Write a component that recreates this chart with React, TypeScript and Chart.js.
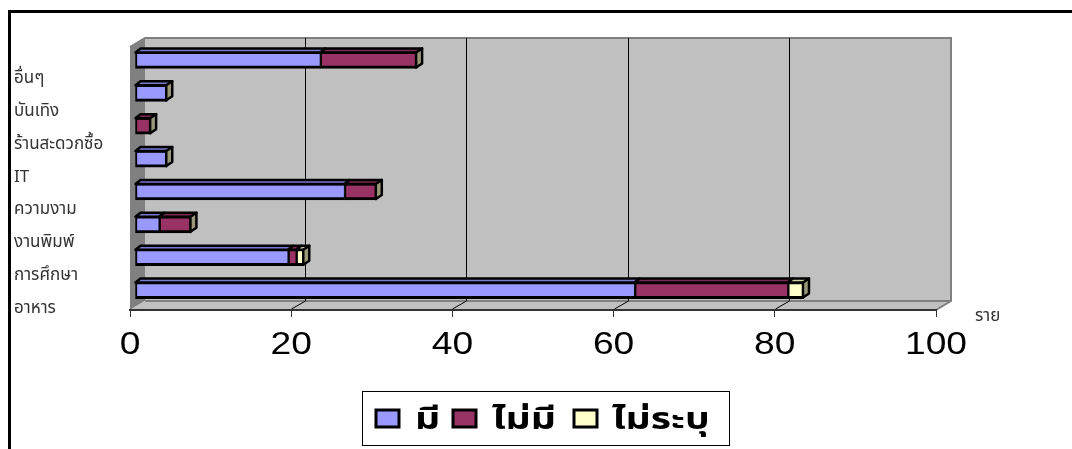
import React, { useEffect, useRef } from "react";
import { Chart, registerables } from "chart.js";

Chart.register(...registerables);

const categories = ["อื่นๆ", "บันเทิง", "ร้านสะดวกซื้อ", "IT", "ความงาม", "งานพิมพ์", "การศึกษา", "อาหาร"];
const hasValues = [23, 4, 0, 4, 26, 3, 19, 62];
const noValues = [12, 0, 2, 0, 4, 4, 1, 19];
const unspecifiedValues = [0, 0, 0, 0, 0, 0, 1, 2];
const seriesNames = ["มี", "ไม่มี", "ไม่ระบุ"];
const seriesColors = ["#9999FF", "#993366", "#FFFFCC"];
const seriesTopColors = ["#7A7ACC", "#7A2952", "#CCCCA3"];
const xTicks = [0, 20, 40, 60, 80, 100];
const unitLabel = "ราย";

const THAI_FONT = '"Noto Sans Thai", "Noto Sans", "DejaVu Sans", sans-serif';
const WALL = { dx: 15, dy: -9 };
const BAR = { dx: 5, dy: -3.5 };
const SIDE_FACE = "#99997A";

function poly(ctx: CanvasRenderingContext2D, pts: number[][]) {
  ctx.beginPath();
  pts.forEach(([x, y], i) => (i ? ctx.lineTo(x, y) : ctx.moveTo(x, y)));
  ctx.closePath();
}

// Page frame, 3D walls, floor and back-wall gridlines
const wallsPlugin = {
  id: "walls",
  beforeDraw(chart: any) {
    const { ctx, chartArea: a, scales } = chart;
    const { left: l, right: r, top: t, bottom: b } = a;
    ctx.save();
    ctx.fillStyle = "#000";
    ctx.fillRect(8, 10, 1064, 3);
    ctx.fillRect(8, 10, 3, 439);

    poly(ctx, [[l + WALL.dx, t + WALL.dy], [r + WALL.dx, t + WALL.dy], [r + WALL.dx, b + WALL.dy], [l + WALL.dx, b + WALL.dy]]);
    ctx.fillStyle = "#C0C0C0";
    ctx.fill();
    poly(ctx, [[l, t], [l + WALL.dx, t + WALL.dy], [l + WALL.dx, b + WALL.dy], [l, b]]);
    ctx.fillStyle = "#808080";
    ctx.fill();
    poly(ctx, [[l, b], [l + WALL.dx, b + WALL.dy], [r + WALL.dx, b + WALL.dy], [r, b]]);
    ctx.fillStyle = "#C0C0C0";
    ctx.fill();

    ctx.strokeStyle = "#808080";
    ctx.lineWidth = 2;
    ctx.beginPath();
    ctx.moveTo(l, t);
    ctx.lineTo(l + WALL.dx, t + WALL.dy);
    ctx.lineTo(r + WALL.dx, t + WALL.dy);
    ctx.lineTo(r + WALL.dx, b + WALL.dy);
    ctx.lineTo(r, b);
    ctx.moveTo(l + WALL.dx, b + WALL.dy);
    ctx.lineTo(r + WALL.dx, b + WALL.dy);
    ctx.stroke();

    ctx.strokeStyle = "#000";
    ctx.lineWidth = 1;
    xTicks.slice(1, -1).forEach((v) => {
      const x = Math.round(scales.x.getPixelForValue(v)) + 0.5;
      ctx.beginPath();
      ctx.moveTo(x, b - 1);
      ctx.lineTo(x + WALL.dx - 1, b + WALL.dy);
      ctx.lineTo(x + WALL.dx - 1, t + WALL.dy);
      ctx.stroke();
    });
    ctx.restore();
  },
  // Bars sit a little behind the front plane of the box
  beforeDatasetsDraw(chart: any) {
    chart.ctx.save();
    chart.ctx.translate(BAR.dx, BAR.dy);
  },
  afterDatasetsDraw(chart: any) {
    const { ctx } = chart;
    const d = 5;
    const h = 4;
    ctx.lineJoin = "round";
    ctx.lineWidth = 2.5;
    ctx.strokeStyle = "#000";
    chart.data.datasets.forEach((_: any, di: number) => {
      chart.getDatasetMeta(di).data.forEach((el: any, j: number) => {
        const { x, y, base, height } = el.getProps(["x", "y", "base", "height"], true);
        if (x - base < 0.5) return;
        const top = y - height / 2;
        const bottom = y + height / 2;
        poly(ctx, [[base, top + 1], [base + d, top - h + 1], [x + d, top - h + 1], [x, top + 1]]);
        ctx.fillStyle = seriesTopColors[di];
        ctx.fill();
        ctx.stroke();
        const stack = hasValues[j] + noValues[j] + unspecifiedValues[j];
        const end = [hasValues[j], hasValues[j] + noValues[j], stack][di];
        if (end === stack) {
          poly(ctx, [[x - 1, top + 1], [x + d, top - h + 1], [x + d, bottom - h - 1], [x - 1, bottom - 1]]);
          ctx.fillStyle = SIDE_FACE;
          ctx.fill();
          ctx.stroke();
        }
      });
    });
    ctx.restore();
  },
  // Wide value labels, the unit caption and the boxed legend
  afterDraw(chart: any) {
    const { ctx, scales } = chart;
    ctx.save();
    ctx.fillStyle = "#000";
    ctx.textAlign = "center";
    ctx.textBaseline = "alphabetic";
    ctx.font = '31px "Liberation Sans", Arial, sans-serif';
    xTicks.forEach((v) => {
      ctx.save();
      ctx.translate(scales.x.getPixelForValue(v), 354);
      ctx.scale(1.2, 1);
      ctx.fillText(String(v), 0, 0);
      ctx.restore();
    });

    ctx.fillStyle = "#333";
    ctx.textAlign = "left";
    ctx.font = `17px ${THAI_FONT}`;
    ctx.fillText(unitLabel, 975, 321);

    ctx.strokeStyle = "#000";
    ctx.lineWidth = 1;
    ctx.strokeRect(362.5, 391.5, 367, 54);
    const swatchX = [376, 453, 574];
    const labelX = [415, 492, 612];
    ctx.font = `bold 30px ${THAI_FONT}`;
    chart.data.datasets.forEach((ds: any, i: number) => {
      ctx.fillStyle = ds.backgroundColor;
      ctx.strokeStyle = "#000";
      ctx.lineWidth = 3;
      ctx.fillRect(swatchX[i], 410, 23, 17);
      ctx.strokeRect(swatchX[i], 410, 23, 17);
      ctx.fillStyle = "#000";
      ctx.save();
      ctx.translate(labelX[i], 429);
      ctx.scale(1.3, 1);
      ctx.fillText(ds.label, 0, 0);
      ctx.restore();
    });
    ctx.restore();
  },
};

export default function App() {
  const ref = useRef<HTMLCanvasElement>(null);

  useEffect(() => {
    const border = { top: 3, bottom: 3, left: 2, right: 1 };
    const values = [hasValues, noValues, unspecifiedValues];
    const chart = new Chart(ref.current!, {
      type: "bar",
      data: {
        labels: categories,
        datasets: seriesNames.map((label, i) => ({
          label,
          data: values[i],
          backgroundColor: seriesColors[i],
          borderColor: "#000",
          borderWidth: border,
          borderSkipped: false,
          barThickness: 17,
          clip: false,
        })),
      } as any,
      options: {
        indexAxis: "y",
        responsive: false,
        animation: false,
        layout: { padding: { top: 47, right: 136, bottom: 0, left: 14 } },
        plugins: { legend: { display: false }, tooltip: { enabled: false } },
        scales: {
          x: {
            stacked: true,
            min: 0,
            max: 100,
            afterFit: (s: any) => {
              s.height = 139;
            },
            border: { color: "#333", width: 2 },
            grid: { drawOnChartArea: false, tickLength: 7, color: "#333" },
            ticks: { stepSize: 20, display: false },
          },
          y: {
            stacked: true,
            afterFit: (s: any) => {
              s.width = 116;
            },
            border: { display: false },
            grid: { display: false },
            ticks: {
              crossAlign: "far",
              padding: 0,
              labelOffset: 16,
              color: "#333",
              autoSkip: false,
              font: { family: THAI_FONT, size: 17 },
            },
          },
        },
      } as any,
      plugins: [wallsPlugin],
    });
    return () => chart.destroy();
  }, []);

  return (
    <canvas
      ref={ref}
      width={1072}
      height={449}
      style={{ position: "fixed", left: 0, top: 0, width: 1072, height: 449 }}
    />
  );
}
